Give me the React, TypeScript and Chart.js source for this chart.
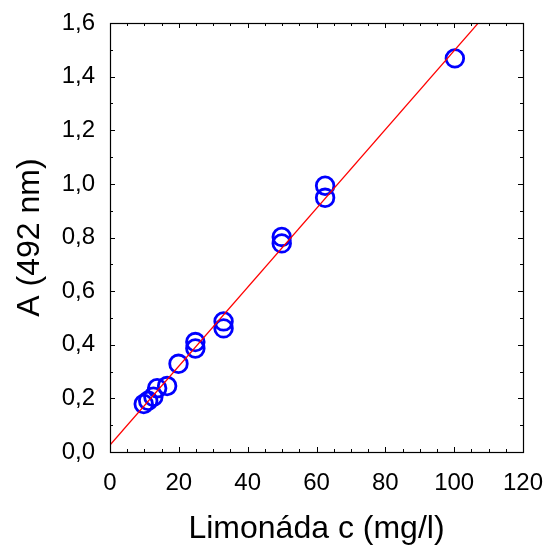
import React, { useEffect, useRef } from "react";
import { Chart, registerables } from "chart.js";

Chart.register(...registerables);

// Measured samples: concentration (mg/l) and absorbance at 492 nm
const concentration = [9.8, 11.1, 12.6, 13.7, 16.6, 19.9, 24.8, 24.8, 33.0, 33.0, 49.9, 49.9, 62.5, 62.5, 100.2];
const absorbance = [0.179, 0.191, 0.206, 0.238, 0.246, 0.329, 0.41, 0.386, 0.487, 0.461, 0.802, 0.778, 0.993, 0.948, 1.468];

// Calibration line end points
const fitX = [0, 107];
const fitY = [0.026, 1.6];

const xTicks = [0, 20, 40, 60, 80, 100, 120];
const yTicks = [0, 0.2, 0.4, 0.6, 0.8, 1.0, 1.2, 1.4, 1.6];

const FONT = "'Liberation Sans', Arial, sans-serif";

const zeroPad = (s: any) => {
  s.paddingLeft = 0;
  s.paddingRight = 0;
  s.paddingTop = 0;
  s.paddingBottom = 0;
};

const boxTicks = {
  id: "boxTicks",
  afterDatasetsDraw(chart: any) {
    const { ctx, chartArea: a, scales } = chart;
    const xs = scales.x;
    const ys = scales.y;
    ctx.save();
    ctx.strokeStyle = "#000";
    ctx.lineWidth = 1;
    ctx.beginPath();
    const major = 5;
    const minor = 3;
    for (let v = 0; v <= 120 + 1e-9; v += 5) {
      const px = Math.round(xs.getPixelForValue(v)) + 0.5;
      const len = Math.abs(v % 20) < 1e-6 ? major : minor;
      ctx.moveTo(px, a.bottom);
      ctx.lineTo(px, a.bottom - len);
      ctx.moveTo(px, a.top);
      ctx.lineTo(px, a.top + len);
    }
    for (let i = 0; i <= 16; i++) {
      const v = i / 10;
      const py = Math.round(ys.getPixelForValue(v)) + 0.5;
      const len = i % 2 === 0 ? major : minor;
      ctx.moveTo(a.left, py);
      ctx.lineTo(a.left + len, py);
      ctx.moveTo(a.right, py);
      ctx.lineTo(a.right - len, py);
    }
    ctx.stroke();
    ctx.lineWidth = 1.2;
    ctx.strokeRect(Math.round(a.left) + 0.5, Math.round(a.top) + 0.5, Math.round(a.right - a.left), Math.round(a.bottom - a.top));
    ctx.restore();
  },
};

export default function App() {
  const ref = useRef<HTMLCanvasElement | null>(null);
  useEffect(() => {
    if (!ref.current) return;
    const chart = new Chart(ref.current, {
      type: "scatter",
      data: {
        datasets: [
          {
            type: "line",
            data: fitX.map((x, i) => ({ x, y: fitY[i] })),
            borderColor: "#ff0000",
            borderWidth: 1.2,
            pointRadius: 0,
            fill: false,
            showLine: true,
          } as any,
          {
            data: concentration.map((x, i) => ({ x, y: absorbance[i] })),
            pointStyle: "circle",
            pointRadius: 8.8,
            pointBorderWidth: 2.8,
            pointBorderColor: "#0000ff",
            pointBackgroundColor: "rgba(0,0,0,0)",
            borderColor: "#0000ff",
            backgroundColor: "rgba(0,0,0,0)",
          } as any,
        ],
      },
      options: {
        animation: false,
        responsive: false,
        layout: { padding: { left: 0, top: 23, right: 27, bottom: 0 } },
        plugins: { legend: { display: false }, tooltip: { enabled: false } },
        scales: {
          x: {
            type: "linear",
            min: 0,
            max: 120,
            afterFit: (s: any) => { s.height = 97; zeroPad(s); },
            afterBuildTicks: (s: any) => { s.ticks = xTicks.map((value) => ({ value })); },
            grid: { display: false, drawTicks: false },
            border: { display: false },
            ticks: { padding: 17, color: "#000", font: { family: FONT, size: 24 }, maxRotation: 0, callback: (v: any) => String(v) },
            title: { display: true, text: "Limonáda c (mg/l)", color: "#000", font: { family: FONT, size: 32, lineHeight: 1.2 }, padding: { top: 0, bottom: 1 } },
          },
          y: {
            type: "linear",
            min: 0,
            max: 1.6,
            afterFit: (s: any) => { s.width = 110; zeroPad(s); },
            afterBuildTicks: (s: any) => { s.ticks = yTicks.map((value) => ({ value })); },
            grid: { display: false, drawTicks: false },
            border: { display: false },
            ticks: { padding: 15, color: "#000", font: { family: FONT, size: 24 }, callback: (v: any) => Number(v).toFixed(1).replace(".", ",") },
            title: { display: true, text: "A (492 nm)", color: "#000", font: { family: FONT, size: 32, lineHeight: 1.2 }, padding: { top: 11, bottom: 0 } },
          },
        },
      },
      plugins: [boxTicks],
    });
    return () => chart.destroy();
  }, []);
  return (
    <div style={{ position: "absolute", left: 0, top: 0, width: 550, height: 549, background: "#fff" }}>
      <canvas ref={ref} width={550} height={549} style={{ display: "block" }} />
    </div>
  );
}
